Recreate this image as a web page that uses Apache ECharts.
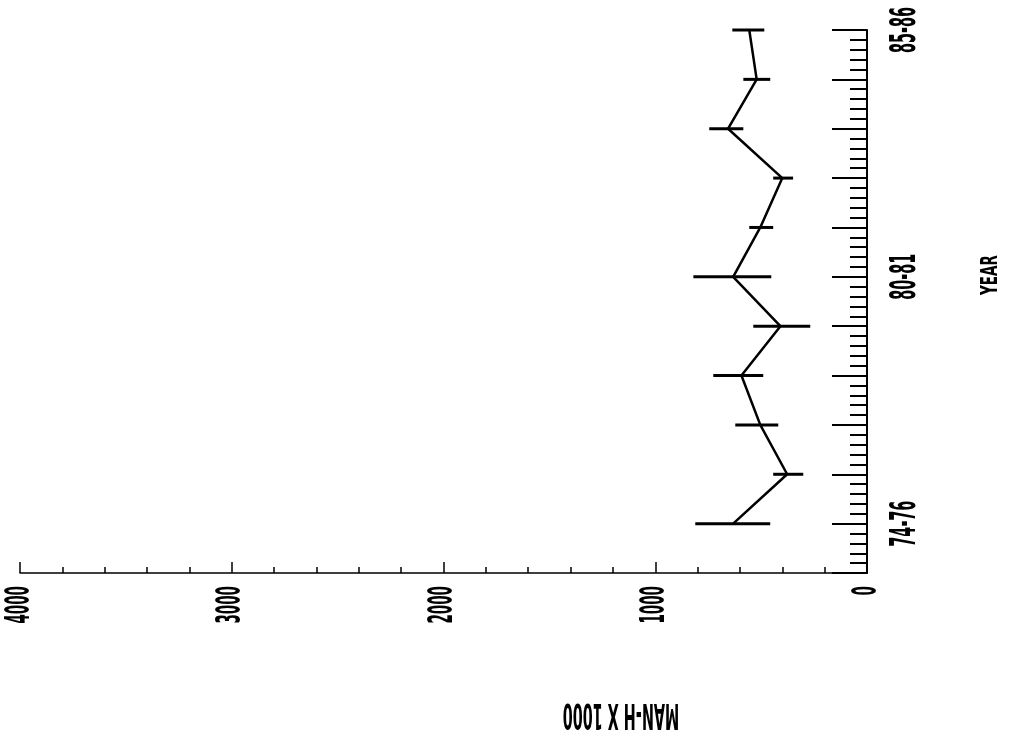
<!DOCTYPE html>
<html>
<head>
<meta charset="utf-8">
<script src="https://cdn.jsdelivr.net/npm/echarts@6/dist/echarts.min.js"></script>
<style>html,body{margin:0;padding:0;background:#fff}#c{width:1014px;height:740px}</style>
</head>
<body>
<div id="c"></div>
<script>
// Data
var categories = ['74-76','76-77','77-78','78-79','79-80','80-81','81-82','82-83','83-84','84-85','85-86'];
var meanValues = [632, 377, 504, 593, 409, 632, 504, 400, 656, 521, 556];
var lowValues  = [457, 301, 419, 490, 268, 452, 443, 349, 584, 457, 485];
var highValues = [811, 443, 622, 726, 537, 820, 556, 443, 745, 584, 636];
var valueTicks = [0, 1000, 2000, 3000, 4000];
var shownYearLabels = ['74-76', '80-81', '85-86'];
var valueTitle = 'MAN-H X 1000';
var yearTitle = 'YEAR';

var FONT = '"DejaVu Sans Condensed", "DejaVu Sans", sans-serif';
var chart = echarts.init(document.getElementById('c'));

var lineData = categories.map(function (c, i) { return [meanValues[i], i + 1]; });
var rangeData = categories.map(function (c, i) { return [lowValues[i], highValues[i], i + 1]; });

chart.setOption({
  animation: false,
  backgroundColor: '#fff',
  grid: { left: 20, right: 147, top: 30, bottom: 167 },
  xAxis: {
    type: 'value', inverse: true, min: valueTicks[0], max: valueTicks[valueTicks.length - 1],
    interval: 1000, position: 'bottom',
    axisLine: { show: true, lineStyle: { color: '#000', width: 1.5 } },
    axisTick: { show: true, inside: true, length: 11, lineStyle: { color: '#000', width: 1.5 } },
    minorTick: { show: true, splitNumber: 5, length: 6, lineStyle: { color: '#000', width: 1.5 } },
    splitLine: { show: false },
    axisLabel: { show: false }
  },
  yAxis: {
    type: 'value', position: 'right', min: 0, max: categories.length, interval: 1,
    axisLine: { show: true, lineStyle: { color: '#000', width: 2 } },
    axisTick: { show: true, inside: true, length: 35, lineStyle: { color: '#000', width: 2 } },
    minorTick: { show: true, splitNumber: 5, length: 17, lineStyle: { color: '#000', width: 2 } },
    splitLine: { show: false },
    axisLabel: { show: false }
  },
  series: [
    {
      type: 'custom',
      data: rangeData,
      renderItem: function (params, api) {
        var a = api.coord([api.value(0), api.value(2)]);
        var b = api.coord([api.value(1), api.value(2)]);
        return { type: 'line', shape: { x1: a[0], y1: a[1], x2: b[0], y2: b[1] },
          style: { stroke: '#000', lineWidth: 3 } };
      },
      z: 3
    },
    {
      type: 'line', data: lineData, symbol: 'none',
      lineStyle: { color: '#000', width: 2.5 }, z: 4
    }
  ]
});

// Tick labels and titles: tall, narrow plotter-style text placed through the axes' scales
var graphics = [];
var xAxisY = chart.convertToPixel({ yAxisIndex: 0 }, 0);
var yAxisX = chart.convertToPixel({ xAxisIndex: 0 }, 0);
valueTicks.forEach(function (v) {
  var px = chart.convertToPixel({ xAxisIndex: 0 }, v);
  graphics.push({ type: 'text', x: px, y: xAxisY + 13, rotation: Math.PI / 2, scaleY: 2.2,
    style: { text: String(v), fill: '#000', font: 'bold 15px ' + FONT, align: 'right', verticalAlign: 'middle' } });
});
categories.forEach(function (c, i) {
  if (shownYearLabels.indexOf(c) < 0) return;
  var py = chart.convertToPixel({ yAxisIndex: 0 }, i + 1);
  graphics.push({ type: 'text', x: yAxisX + 21, y: py, rotation: Math.PI / 2, scaleY: 2.2,
    style: { text: c, fill: '#000', font: 'bold 16px ' + FONT, align: 'center', verticalAlign: 'top' } });
});
graphics.push({ type: 'text', x: 621, y: 713, rotation: Math.PI, scaleY: 2.2,
  style: { text: valueTitle, fill: '#000', font: 'bold 16px ' + FONT, align: 'center', verticalAlign: 'middle' } });
graphics.push({ type: 'text', x: 991, y: 275, rotation: Math.PI / 2, scaleY: 1.5,
  style: { text: yearTitle, fill: '#000', font: 'bold 15px ' + FONT, align: 'center', verticalAlign: 'middle' } });
chart.setOption({ graphic: graphics });
</script>
</body>
</html>
